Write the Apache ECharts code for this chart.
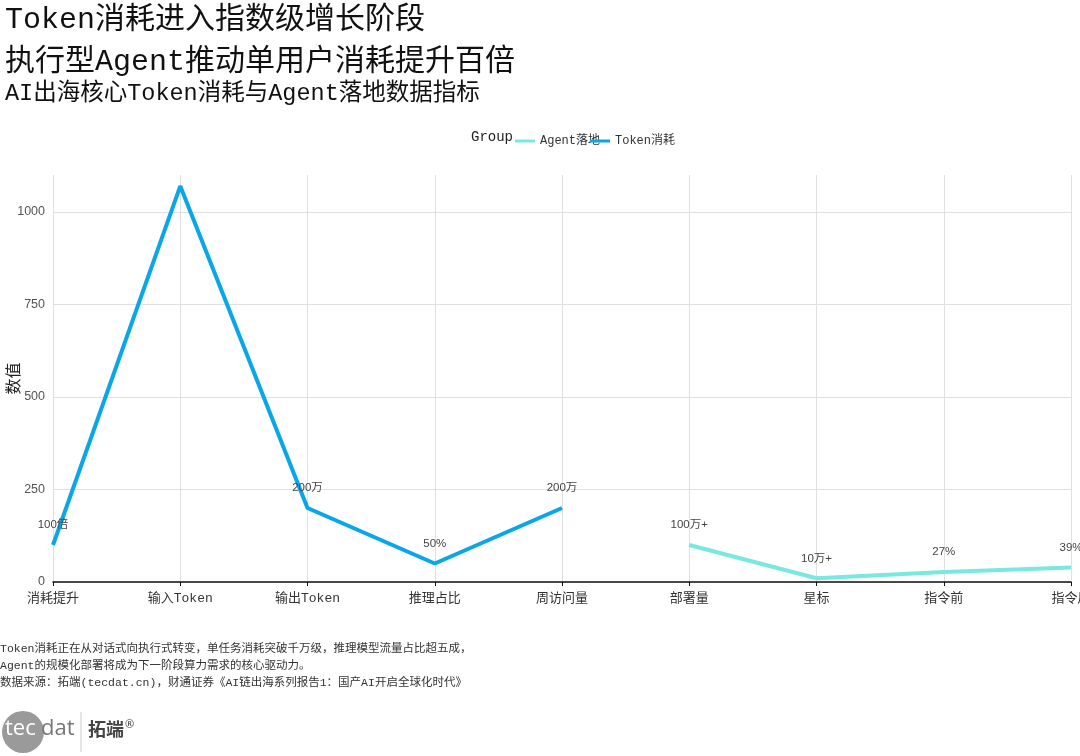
<!DOCTYPE html>
<html>
<head>
<meta charset="utf-8">
<title>Token消耗与Agent落地</title>
<script src="https://cdn.jsdelivr.net/npm/echarts@6/dist/echarts.min.js"></script>
<style>
    html, body { margin: 0; padding: 0; background: #fff; }
    #chart { width: 1080px; height: 756px; }
</style>
</head>
<body>
<div id="chart"></div>
<script>
    // 数据
    var categories = ['消耗提升', '输入Token', '输出Token', '推理占比', '周访问量', '部署量', '星标', '指令前', '指令后'];
    var tokenValues = [100, 1070, 200, 50, 200, null, null, null, null];
    var agentValues = [null, null, null, null, null, 100, 10, 27, 39];
    var pointLabels = ['100倍', '', '200万', '50%', '200万', '100万+', '10万+', '27%', '39%'];
    var yTicks = [0, 250, 500, 750, 1000];

    var FONT = '"Liberation Mono", "Noto Sans CJK SC", monospace';
    var NUM_FONT = '"Liberation Sans", "Noto Sans CJK SC", sans-serif';

    var myChart = echarts.init(document.getElementById('chart'));

    var labelOpt = {
        show: true,
        position: 'top',
        distance: 14,
        fontFamily: NUM_FONT,
        fontSize: 11.5,
        color: '#444',
        formatter: function (p) {
            return pointLabels[p.dataIndex];
        }
    };

    var option = {
        backgroundColor: '#fff',
        animation: false,
        title: [
            {
                text: 'Token消耗进入指数级增长阶段',
                left: 0, top: 0,
                textStyle: { fontFamily: FONT, fontSize: 30, fontWeight: 'normal', color: '#111' }
            },
            {
                text: '执行型Agent推动单用户消耗提升百倍',
                left: 0, top: 42,
                textStyle: { fontFamily: FONT, fontSize: 30, fontWeight: 'normal', color: '#111' }
            },
            {
                text: 'AI出海核心Token消耗与Agent落地数据指标',
                left: 0, top: 77,
                textStyle: { fontFamily: FONT, fontSize: 23.5, fontWeight: 'normal', color: '#111' }
            }
        ],
        legend: {
            data: ['Agent落地', 'Token消耗'],
            left: 510,
            top: 130,
            icon: 'rect',
            itemWidth: 20,
            itemHeight: 3,
            itemGap: -10,
            textStyle: { fontFamily: FONT, fontSize: 12, color: '#333' }
        },
        grid: {
            left: 53,
            right: 9,
            top: 175,
            bottom: 174,
            containLabel: false,
            outerBoundsMode: 'none'
        },
        xAxis: {
            type: 'category',
            data: categories,
            boundaryGap: false,
            axisLine: { lineStyle: { color: '#111', width: 1.5 } },
            axisTick: { show: true, length: 4, lineStyle: { color: '#111' } },
            axisLabel: { fontFamily: FONT, fontSize: 13, color: '#333', margin: 10, interval: 0 },
            splitLine: { show: true, lineStyle: { color: '#e0e0e0', width: 1 } }
        },
        yAxis: {
            type: 'value',
            min: yTicks[0],
            max: 1100,
            interval: yTicks[1] - yTicks[0],
            name: '数值',
            nameLocation: 'middle',
            nameGap: 30,
            nameMoveOverlap: false,
            nameTextStyle: { fontFamily: FONT, fontSize: 16, color: '#222' },
            axisLine: { show: false },
            axisTick: { show: false },
            axisLabel: {
                fontFamily: NUM_FONT, fontSize: 12.5, color: '#555', margin: 8, showMaxLabel: false,
                formatter: function (v) { return String(v); }
            },
            splitLine: { show: true, showMaxLine: false, lineStyle: { color: '#e0e0e0', width: 1 } }
        },
        series: [
            {
                name: 'Agent落地',
                type: 'line',
                data: agentValues,
                symbol: 'circle',
                symbolSize: 0.1,
                showSymbol: true,
                connectNulls: false,
                lineStyle: { color: '#79e8df', width: 4 },
                itemStyle: { color: '#79e8df' },
                label: labelOpt
            },
            {
                name: 'Token消耗',
                type: 'line',
                data: tokenValues,
                symbol: 'circle',
                symbolSize: 0.1,
                showSymbol: true,
                connectNulls: false,
                lineStyle: { color: '#0aa6e8', width: 4 },
                itemStyle: { color: '#0aa6e8' },
                label: labelOpt
            }
        ],
        graphic: [
            {
                type: 'text', left: 471, top: 130,
                style: { text: 'Group', fontFamily: FONT, fontSize: 14, fill: '#222' }
            },
            {
                type: 'text', left: 0, top: 640,
                style: {
                    text: 'Token消耗正在从对话式向执行式转变，单任务消耗突破千万级，推理模型流量占比超五成，\nAgent的规模化部署将成为下一阶段算力需求的核心驱动力。\n数据来源：拓端(tecdat.cn)，财通证券《AI链出海系列报告1：国产AI开启全球化时代》',
                    fontFamily: FONT, fontSize: 11.5, lineHeight: 17, fill: '#333'
                }
            },
            // logo
            {
                type: 'circle', shape: { cx: 23, cy: 732, r: 21 },
                style: { fill: '#9a9a9a' }
            },
            {
                type: 'text', left: 5, top: 718,
                style: { text: 'tec', fontFamily: '"Open Sans", sans-serif', fontSize: 22, fill: '#fff' }
            },
            {
                type: 'text', left: 41, top: 718,
                style: { text: 'dat', fontFamily: '"Open Sans", sans-serif', fontSize: 22, fill: '#777' }
            },
            {
                type: 'line', shape: { x1: 81, y1: 712, x2: 81, y2: 752 },
                style: { stroke: '#ccc', lineWidth: 1 }
            },
            {
                type: 'text', left: 88, top: 720,
                style: { text: '拓端', fontFamily: '"Noto Sans CJK SC", sans-serif', fontSize: 18, fontWeight: 'bold', fill: '#444' }
            },
            {
                type: 'text', left: 125, top: 719,
                style: { text: '®', fontFamily: '"Noto Sans", sans-serif', fontSize: 11, fill: '#444' }
            }
        ]
    };

    myChart.setOption(option);
</script>
</body>
</html>
